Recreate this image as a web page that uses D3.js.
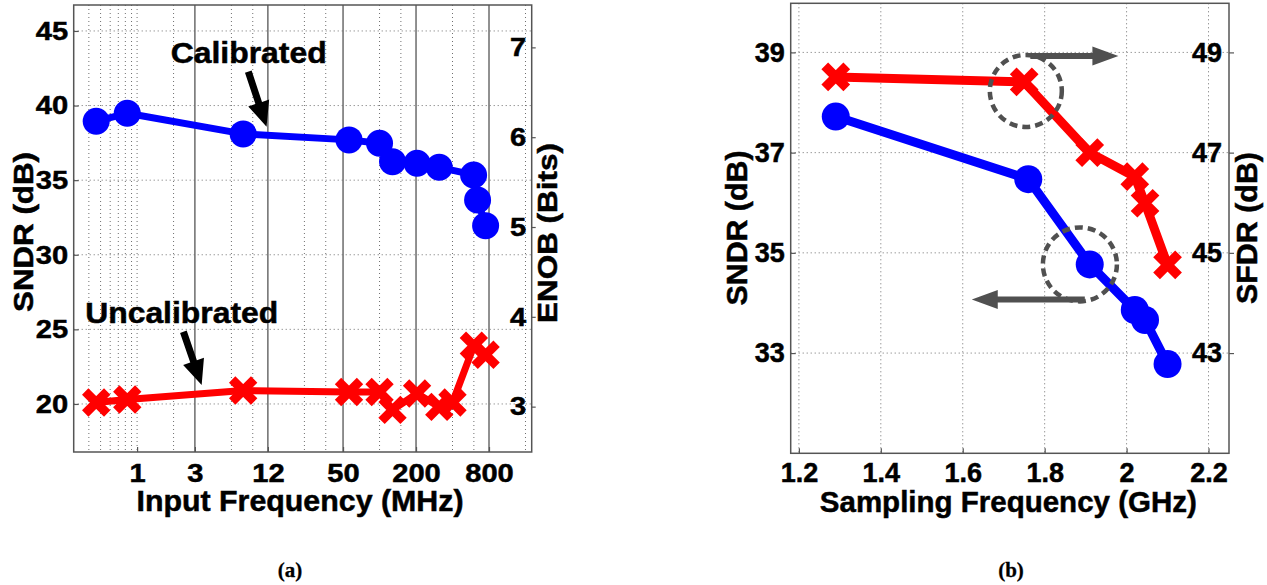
<!DOCTYPE html>
<html>
<head>
<meta charset="utf-8">
<script src="https://cdn.jsdelivr.net/npm/d3@7"></script>
<style>
  body { margin: 0; background: #fff; }
  svg text { font-family: "Liberation Sans", Arial, Helvetica, sans-serif; font-weight: bold; fill: #000; stroke: #000; stroke-width: 0.5px; }
</style>
</head>
<body>
<svg id="fig" width="1267" height="585"></svg>
<script>
// ---- data, panel (a): SNDR vs input frequency ----
const finMHz      = [0.46, 0.83, 7.5, 56, 100, 128, 204, 311, 597, 644, 750];
const sndrCal     = [38.95, 39.48, 38.1, 37.7, 37.47, 36.24, 36.13, 35.86, 35.35, 33.67, 31.95];
const finUncalMHz = [0.46, 0.83, 7.5, 56, 100, 128, 204, 311, 400, 600, 750];
const sndrUncal   = [20.1, 20.3, 20.9, 20.8, 20.8, 19.6, 20.7, 19.8, 20.1, 23.9, 23.3];
const finTicks    = [1, 3, 12, 50, 200, 800];
const finSolid    = [3, 12, 50, 200, 800];
const finDotted   = [0.4, 0.5, 0.6, 0.7, 0.8, 0.9, 1, 2, 6, 9, 24, 36, 100, 150, 400, 600, 1600];
const sndrTicksA  = [20, 25, 30, 35, 40, 45];
const enobTicks   = [3, 4, 5, 6, 7];

// ---- data, panel (b): SNDR / SFDR vs sampling frequency ----
const fsSndr  = [1.29, 1.76, 1.91, 2.02, 2.045, 2.10];
const sndrFs  = [37.72, 36.47, 34.77, 33.86, 33.66, 32.78];
const fsSfdr  = [1.29, 1.75, 1.91, 2.02, 2.045, 2.10];
const sfdrFs  = [48.51, 48.41, 47.0, 46.52, 45.99, 44.76];
const fsTicks    = [1.2, 1.4, 1.6, 1.8, 2.0, 2.2];
const sndrTicksB = [33, 35, 37, 39];
const sfdrTicks  = [43, 45, 47, 49];

const svg = d3.select("#fig");
const BLUE = "#0000ff", RED = "#ff0000", GRID = "#6f6f6f", BOX = "#555";

function arrow(g, x1, y1, x2, y2, w, hl, hw, color) {
  let dx = x2 - x1, dy = y2 - y1, L = Math.hypot(dx, dy);
  let ux = dx / L, uy = dy / L, nx = -uy, ny = ux;
  let bx = x2 - ux * hl, by = y2 - uy * hl;
  let p = [
    [x1 + nx * w / 2, y1 + ny * w / 2], [bx + nx * w / 2, by + ny * w / 2],
    [bx + nx * hw / 2, by + ny * hw / 2], [x2, y2],
    [bx - nx * hw / 2, by - ny * hw / 2], [bx - nx * w / 2, by - ny * w / 2],
    [x1 - nx * w / 2, y1 - ny * w / 2]
  ];
  g.append("path").attr("d", "M" + p.join("L") + "Z").attr("fill", color);
}

function styleAxis(sel, size, sx) {
  sel.attr("font-family", null).attr("font-size", size);
  sel.select(".domain").remove();
  sel.selectAll("line").attr("stroke", BOX).attr("stroke-width", 1.2);
  if (sx) sel.selectAll("text").attr("transform", `scale(${sx},1)`);
}

function crossPath(d) {
  return `M${-d},${-d}L${d},${d}M${-d},${d}L${d},${-d}`;
}

//--------------------------------------------------
// Panel (a)
//--------------------------------------------------
const A = {left: 73.7, right: 531.7, top: 5, bottom: 452};
const xA = d3.scaleLog().domain([0.3, 1800]).range([A.left, A.right]);
const yA = d3.scaleLinear().domain([16.78, 46.74]).range([A.bottom, A.top]);
const toEnob = db => (db - 1.76) / 6.02;
const yEnob = d3.scaleLinear().domain(yA.domain().map(toEnob)).range([A.bottom, A.top]);

const gA = svg.append("g");

gA.selectAll(".vdot").data(finDotted).enter().append("line")
  .attr("x1", d => xA(d)).attr("x2", d => xA(d))
  .attr("y1", A.top).attr("y2", A.bottom)
  .attr("stroke", GRID).attr("stroke-dasharray", "1,3");
gA.selectAll(".vsolid").data(finSolid).enter().append("line")
  .attr("x1", d => xA(d)).attr("x2", d => xA(d))
  .attr("y1", A.top).attr("y2", A.bottom)
  .attr("stroke", "#222").attr("stroke-width", 1);
gA.selectAll(".hdot").data(sndrTicksA).enter().append("line")
  .attr("x1", A.left).attr("x2", A.right)
  .attr("y1", d => yA(d)).attr("y2", d => yA(d))
  .attr("stroke", GRID).attr("stroke-dasharray", "1,3");

gA.append("rect")
  .attr("x", A.left).attr("y", A.top)
  .attr("width", A.right - A.left).attr("height", A.bottom - A.top)
  .attr("fill", "none").attr("stroke", BOX).attr("stroke-width", 1.5);

gA.append("g").attr("transform", `translate(0,${A.bottom})`)
  .call(d3.axisBottom(xA).tickValues(finTicks).tickFormat(d => String(d)).tickSize(-5).tickPadding(12))
  .call(s => styleAxis(s, 26, 1.12));
gA.append("g").attr("transform", `translate(${A.left},0)`)
  .call(d3.axisLeft(yA).tickValues(sndrTicksA).tickSize(-5).tickPadding(5))
  .call(s => styleAxis(s, 26, 1.12));
gA.append("g").attr("transform", `translate(${A.right},0)`)
  .call(d3.axisLeft(yEnob).tickValues(enobTicks).tickFormat(d3.format("d")).tickSize(-4).tickPadding(5))
  .call(s => styleAxis(s, 26, 1.12));

// lines + markers
const lineA = d3.line().x(d => xA(d[0])).y(d => yA(d[1]));
const calPts = finMHz.map((f, i) => [f, sndrCal[i]]);
const uncPts = finUncalMHz.map((f, i) => [f, sndrUncal[i]]);

gA.append("path").datum(uncPts).attr("d", lineA)
  .attr("fill", "none").attr("stroke", RED).attr("stroke-width", 7).attr("stroke-linejoin", "round");
gA.selectAll(".xa").data(uncPts).enter().append("path")
  .attr("transform", d => `translate(${xA(d[0])},${yA(d[1])})`)
  .attr("d", crossPath(11)).attr("stroke", RED).attr("stroke-width", 9).attr("fill", "none");

gA.append("path").datum(calPts).attr("d", lineA)
  .attr("fill", "none").attr("stroke", BLUE).attr("stroke-width", 7).attr("stroke-linejoin", "round");
gA.selectAll(".ca").data(calPts).enter().append("circle")
  .attr("cx", d => xA(d[0])).attr("cy", d => yA(d[1])).attr("r", 13.5).attr("fill", BLUE);

// annotations
gA.append("text").attr("x", 248.7).attr("y", 63.3).attr("text-anchor", "middle")
  .attr("font-size", 29).attr("textLength", 156).attr("lengthAdjust", "spacingAndGlyphs").text("Calibrated");
arrow(gA, xA(8.27), yA(42.27), xA(11.7), yA(38.58), 7, 25, 22, "#000");
gA.append("text").attr("x", 181.7).attr("y", 323).attr("text-anchor", "middle")
  .attr("font-size", 29).attr("textLength", 193).attr("lengthAdjust", "spacingAndGlyphs").text("Uncalibrated");
arrow(gA, xA(2.41), yA(24.84), xA(3.41), yA(21.27), 7, 25, 22, "#000");

gA.append("text").attr("transform", "translate(33,232) rotate(-90)").attr("text-anchor", "middle")
  .attr("font-size", 28).attr("textLength", 160).attr("lengthAdjust", "spacingAndGlyphs").text("SNDR (dB)");
gA.append("text").attr("transform", "translate(557,233) rotate(-90)").attr("text-anchor", "middle")
  .attr("font-size", 28).attr("textLength", 180).attr("lengthAdjust", "spacingAndGlyphs").text("ENOB (Bits)");
gA.append("text").attr("x", 300).attr("y", 511).attr("text-anchor", "middle")
  .attr("font-size", 30).attr("textLength", 327).attr("lengthAdjust", "spacingAndGlyphs").text("Input Frequency (MHz)");
gA.append("text").attr("x", 290).attr("y", 577).attr("text-anchor", "middle")
  .style("font-family", '"Liberation Serif", "Times New Roman", serif').style("stroke-width", "0.3px")
  .attr("font-size", 21).text("(a)");

//--------------------------------------------------
// Panel (b)
//--------------------------------------------------
const B = {left: 790.7, right: 1229, top: 3.3, bottom: 453.3};
const xB = d3.scaleLinear().domain([1.18, 2.25]).range([B.left, B.right]);
const yB = d3.scaleLinear().domain([31, 39.98]).range([B.bottom, B.top]);
const ySf = d3.scaleLinear().domain([41, 49.98]).range([B.bottom, B.top]);

const gB = svg.append("g");

gB.selectAll(".vdot").data(fsTicks).enter().append("line")
  .attr("x1", d => xB(d)).attr("x2", d => xB(d))
  .attr("y1", B.top).attr("y2", B.bottom)
  .attr("stroke", GRID).attr("stroke-dasharray", "1,3");
gB.selectAll(".hdot").data(sndrTicksB).enter().append("line")
  .attr("x1", B.left).attr("x2", B.right)
  .attr("y1", d => yB(d)).attr("y2", d => yB(d))
  .attr("stroke", GRID).attr("stroke-dasharray", "1,3");

gB.append("rect")
  .attr("x", B.left).attr("y", B.top)
  .attr("width", B.right - B.left).attr("height", B.bottom - B.top)
  .attr("fill", "none").attr("stroke", BOX).attr("stroke-width", 1.5);

gB.append("g").attr("transform", `translate(0,${B.bottom})`)
  .call(d3.axisBottom(xB).tickValues(fsTicks).tickFormat(d => String(d)).tickSize(-5).tickPadding(10))
  .call(s => styleAxis(s, 27));
gB.append("g").attr("transform", `translate(${B.left},0)`)
  .call(d3.axisLeft(yB).tickValues(sndrTicksB).tickSize(-5).tickPadding(6))
  .call(s => styleAxis(s, 27));
gB.append("g").attr("transform", `translate(${B.right},0)`)
  .call(d3.axisLeft(ySf).tickValues(sfdrTicks).tickSize(-5).tickPadding(7))
  .call(s => styleAxis(s, 27));

const sfdrPts = fsSfdr.map((f, i) => [f, sfdrFs[i]]);
const sndrPts = fsSndr.map((f, i) => [f, sndrFs[i]]);

gB.append("path").datum(sfdrPts)
  .attr("d", d3.line().x(d => xB(d[0])).y(d => ySf(d[1])))
  .attr("fill", "none").attr("stroke", RED).attr("stroke-width", 9).attr("stroke-linejoin", "round");
gB.selectAll(".xb").data(sfdrPts).enter().append("path")
  .attr("transform", d => `translate(${xB(d[0])},${ySf(d[1])})`)
  .attr("d", crossPath(11)).attr("stroke", RED).attr("stroke-width", 9.5).attr("fill", "none");

gB.append("path").datum(sndrPts)
  .attr("d", d3.line().x(d => xB(d[0])).y(d => yB(d[1])))
  .attr("fill", "none").attr("stroke", BLUE).attr("stroke-width", 9).attr("stroke-linejoin", "round");
gB.selectAll(".cb").data(sndrPts).enter().append("circle")
  .attr("cx", d => xB(d[0])).attr("cy", d => yB(d[1])).attr("r", 14).attr("fill", BLUE);

// dashed circles and arrows showing which axis each curve uses
const ANN = "#505050";
gB.append("circle").attr("cx", xB(1.754)).attr("cy", yB(38.23)).attr("r", 36)
  .attr("fill", "none").attr("stroke", ANN).attr("stroke-width", 4.5).attr("stroke-dasharray", "8,5");
gB.append("circle").attr("cx", xB(1.886)).attr("cy", yB(34.77)).attr("r", 37)
  .attr("fill", "none").attr("stroke", ANN).attr("stroke-width", 4.5).attr("stroke-dasharray", "8,5");
arrow(gB, xB(1.765), yB(38.93), xB(1.98), yB(38.93), 6, 26, 19, ANN);
arrow(gB, xB(1.898), yB(34.07), xB(1.622), yB(34.07), 6, 26, 19, ANN);

gB.append("text").attr("transform", "translate(747,228) rotate(-90)").attr("text-anchor", "middle")
  .attr("font-size", 30).attr("textLength", 155).attr("lengthAdjust", "spacingAndGlyphs").text("SNDR (dB)");
gB.append("text").attr("transform", "translate(1257,228) rotate(-90)").attr("text-anchor", "middle")
  .attr("font-size", 30).attr("textLength", 152).attr("lengthAdjust", "spacingAndGlyphs").text("SFDR (dB)");
gB.append("text").attr("x", 1008.3).attr("y", 512).attr("text-anchor", "middle")
  .attr("font-size", 30).attr("textLength", 377).attr("lengthAdjust", "spacingAndGlyphs").text("Sampling Frequency (GHz)");
gB.append("text").attr("x", 1011).attr("y", 577).attr("text-anchor", "middle")
  .style("font-family", '"Liberation Serif", "Times New Roman", serif').style("stroke-width", "0.3px")
  .attr("font-size", 21).text("(b)");
</script>
</body>
</html>
